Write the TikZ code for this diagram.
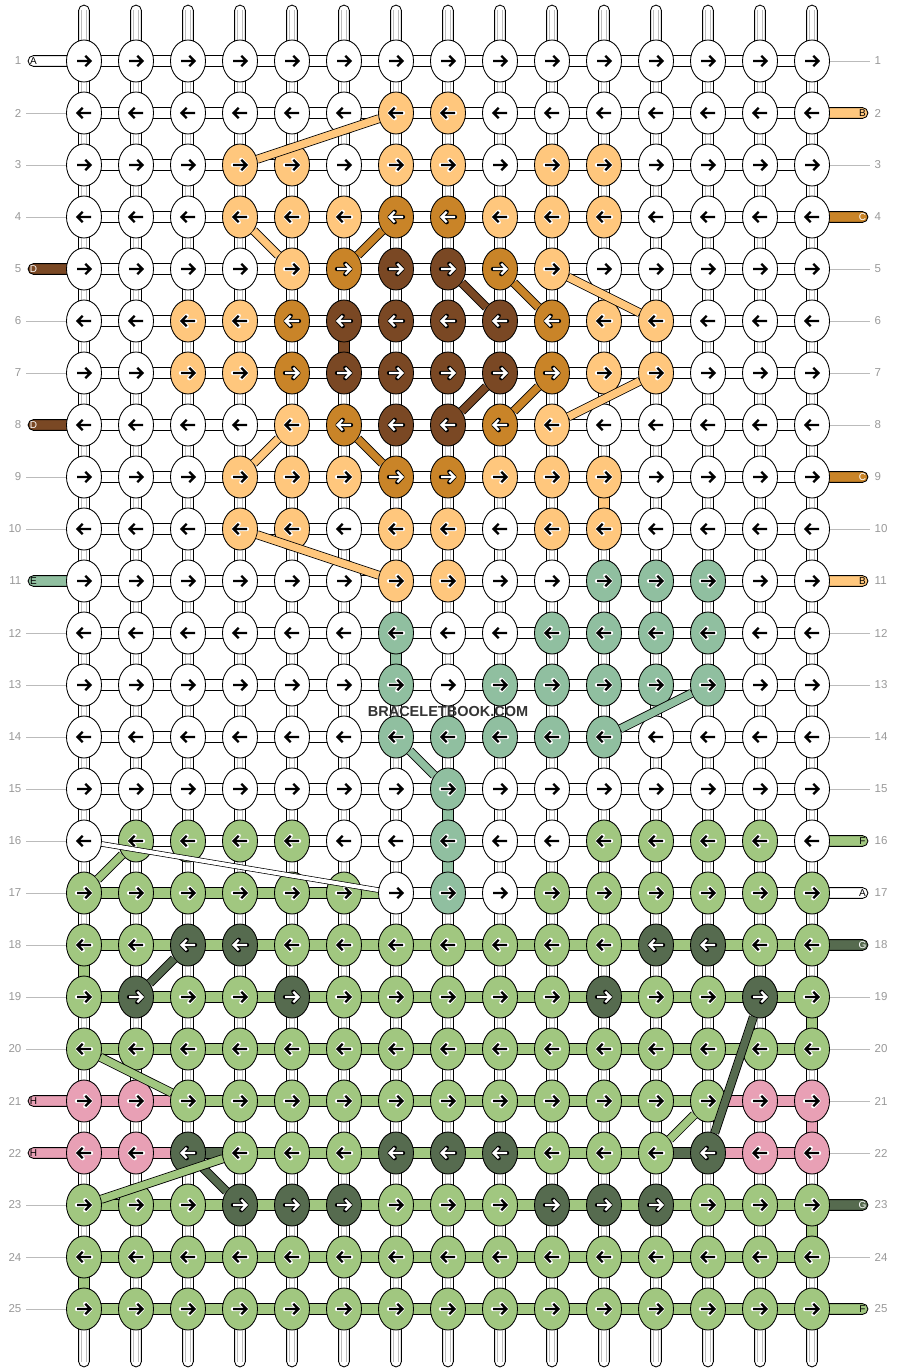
\documentclass[tikz,border=0pt]{standalone}
\usepackage{fontspec}
\setmainfont{Liberation Sans}
\usetikzlibrary{shapes.geometric}
\pgfdeclarelayer{background}
\pgfsetlayers{background,main}
\definecolor{W}{HTML}{FFFFFF}
\definecolor{L}{HTML}{FFC77D}
\definecolor{M}{HTML}{C98428}
\definecolor{D}{HTML}{7A4824}
\definecolor{T}{HTML}{90BFA0}
\definecolor{G}{HTML}{A1C780}
\definecolor{K}{HTML}{566B4F}
\definecolor{P}{HTML}{E8A0B5}
\definecolor{numgray}{HTML}{999999}
\definecolor{linegray}{HTML}{BBBBBB}
\definecolor{warpgray}{HTML}{BDBDBD}
\definecolor{textdark}{HTML}{333333}
\begin{document}
\begin{tikzpicture}[x=1pt,y=-1pt,
  knot/.style={ellipse, draw=black, line width=0.85pt, minimum width=35pt, minimum height=42pt, inner sep=0pt},
  segbox/.style={draw=black, line width=0.85pt},
  warpline/.style={draw=warpgray, line width=0.7pt},
  diag/.style={draw=black, line width=0.8pt, double distance=7.4pt},
  thindiag/.style={draw=black, line width=0.7pt, double=white, double distance=4pt},
  num/.style={text=numgray, font=\fontsize{11.5}{12}\selectfont, inner sep=0pt},
  lab/.style={font=\fontsize{10}{10}\selectfont, inner sep=0pt},
  haloW/.style={draw=white}, fgW/.style={draw=black},
  haloL/.style={draw=white}, fgL/.style={draw=black},
  haloT/.style={draw=white}, fgT/.style={draw=black},
  haloG/.style={draw=white}, fgG/.style={draw=black},
  haloP/.style={draw=white}, fgP/.style={draw=black},
  haloM/.style={draw=black}, fgM/.style={draw=white},
  haloD/.style={draw=black}, fgD/.style={draw=white},
  haloK/.style={draw=black}, fgK/.style={draw=white}]
\useasboundingbox (0,0) rectangle (896,1372);
\begin{pgfonlayer}{background}
\fill[white] (0,0) rectangle (896,1372);
\end{pgfonlayer}
% knots
\foreach \rr/\cols in {
 1/{W,W,W,W,W,W,W,W,W,W,W,W,W,W,W},
 2/{W,W,W,W,W,W,L,L,W,W,W,W,W,W,W},
 3/{W,W,W,L,L,W,L,L,W,L,L,W,W,W,W},
 4/{W,W,W,L,L,L,M,M,L,L,L,W,W,W,W},
 5/{W,W,W,W,L,M,D,D,M,L,W,W,W,W,W},
 6/{W,W,L,L,M,D,D,D,D,M,L,L,W,W,W},
 7/{W,W,L,L,M,D,D,D,D,M,L,L,W,W,W},
 8/{W,W,W,W,L,M,D,D,M,L,W,W,W,W,W},
 9/{W,W,W,L,L,L,M,M,L,L,L,W,W,W,W},
 10/{W,W,W,L,L,W,L,L,W,L,L,W,W,W,W},
 11/{W,W,W,W,W,W,L,L,W,W,T,T,T,W,W},
 12/{W,W,W,W,W,W,T,W,W,T,T,T,T,W,W},
 13/{W,W,W,W,W,W,T,W,T,T,T,T,T,W,W},
 14/{W,W,W,W,W,W,T,T,T,T,T,W,W,W,W},
 15/{W,W,W,W,W,W,W,T,W,W,W,W,W,W,W},
 16/{W,G,G,G,G,W,W,T,W,W,G,G,G,G,W},
 17/{G,G,G,G,G,G,W,T,W,G,G,G,G,G,G},
 18/{G,G,K,K,G,G,G,G,G,G,G,K,K,G,G},
 19/{G,K,G,G,K,G,G,G,G,G,K,G,G,K,G},
 20/{G,G,G,G,G,G,G,G,G,G,G,G,G,G,G},
 21/{P,P,G,G,G,G,G,G,G,G,G,G,G,P,P},
 22/{P,P,K,G,G,G,K,K,K,G,G,G,K,P,P},
 23/{G,G,G,K,K,K,G,G,G,K,K,K,G,G,G},
 24/{G,G,G,G,G,G,G,G,G,G,G,G,G,G,G},
 25/{G,G,G,G,G,G,G,G,G,G,G,G,G,G,G}} {
  \foreach \kc [count=\cc] in \cols {
    \pgfmathsetmacro\X{84+52*(\cc-1)}
    \pgfmathsetmacro\Y{61+52*(\rr-1)}
    \pgfmathsetmacro\dr{ifthenelse(mod(\rr,2)==1,1,-1)}
    \node[knot, fill=\kc] (k-\rr-\cc) at (\X,\Y) {};
    \draw[halo\kc, line width=4.3pt, line cap=round, line join=round]
      (\X-7*\dr,\Y) -- (\X+6*\dr,\Y) (\X+1.3*\dr,\Y-5.2) -- (\X+6.4*\dr,\Y) -- (\X+1.3*\dr,\Y+5.2);
    \draw[fg\kc, line width=2.3pt, line cap=butt, line join=miter]
      (\X-7*\dr,\Y) -- (\X+6*\dr,\Y) (\X+1.3*\dr,\Y-5.2) -- (\X+6.4*\dr,\Y) -- (\X+1.3*\dr,\Y+5.2);
  }
}
\begin{pgfonlayer}{background}
% warp strands
\foreach \cc in {1,...,15} {
  \pgfmathsetmacro\X{84+52*(\cc-1)}
  \coordinate (top-\cc) at (\X,10.5);
  \coordinate (bot-\cc) at (\X,1361.5);
  \draw[segbox, fill=white] ([xshift=-5.4pt]k-1-\cc.center) -- ([xshift=-5.4pt]top-\cc)
     arc[start angle=180, end angle=0, radius=5.4pt] -- ([xshift=5.4pt]k-1-\cc.center) -- cycle;
  \draw[warpline] ([xshift=-2.2pt]top-\cc) -- ([xshift=-2.2pt]k-1-\cc.center)
                  ([xshift=2.2pt]top-\cc) -- ([xshift=2.2pt]k-1-\cc.center);
  \draw[segbox, fill=white] ([xshift=-5.4pt]k-25-\cc.center) -- ([xshift=-5.4pt]bot-\cc)
     arc[start angle=180, end angle=360, radius=5.4pt] -- ([xshift=5.4pt]k-25-\cc.center) -- cycle;
  \draw[warpline] ([xshift=-2.2pt]bot-\cc) -- ([xshift=-2.2pt]k-25-\cc.center)
                  ([xshift=2.2pt]bot-\cc) -- ([xshift=2.2pt]k-25-\cc.center);
  \foreach \rr in {1,...,24} {
    \pgfmathtruncatemacro\rn{\rr+1}
    \draw[segbox, fill=white] ([xshift=-5.4pt]k-\rr-\cc.center) rectangle ([xshift=5.4pt]k-\rn-\cc.center);
    \draw[warpline] ([xshift=-2.2pt]k-\rr-\cc.center) -- ([xshift=-2.2pt]k-\rn-\cc.center)
                    ([xshift=2.2pt]k-\rr-\cc.center) -- ([xshift=2.2pt]k-\rn-\cc.center);
  }
}
% horizontal segments
\foreach \rr/\segs in {
 1/{W,W,W,W,W,W,W,W,W,W,W,W,W,W}, 2/{W,W,W,W,W,W,W,W,W,W,W,W,W,W},
 3/{W,W,W,W,W,W,W,W,W,W,W,W,W,W}, 4/{W,W,W,W,W,W,W,W,W,W,W,W,W,W},
 5/{W,W,W,W,W,W,W,W,W,W,W,W,W,W}, 6/{W,W,W,W,W,W,W,W,W,W,W,W,W,W},
 7/{W,W,W,W,W,W,W,W,W,W,W,W,W,W}, 8/{W,W,W,W,W,W,W,W,W,W,W,W,W,W},
 9/{W,W,W,W,W,W,W,W,W,W,W,W,W,W}, 10/{W,W,W,W,W,W,W,W,W,W,W,W,W,W},
 11/{W,W,W,W,W,W,W,W,W,W,W,W,W,W}, 12/{W,W,W,W,W,W,W,W,W,W,W,W,W,W},
 13/{W,W,W,W,W,W,W,W,W,W,W,W,W,W}, 14/{W,W,W,W,W,W,W,W,W,W,W,W,W,W},
 15/{W,W,W,W,W,W,W,W,W,W,W,W,W,W}, 16/{W,W,W,W,W,W,W,W,W,W,W,W,W,W},
 17/{G,G,G,G,G,G,W,W,W,W,W,W,W,W},
 18/{G,G,G,G,G,G,G,G,G,G,G,G,G,G}, 19/{G,G,G,G,G,G,G,G,G,G,G,G,G,G},
 20/{G,G,G,G,G,G,G,G,G,G,G,G,G,G},
 21/{P,P,G,G,G,G,G,G,G,G,G,G,P,P},
 22/{P,P,K,G,G,G,G,G,G,G,G,K,P,P},
 23/{G,G,G,G,G,G,G,G,G,G,G,G,G,G}, 24/{G,G,G,G,G,G,G,G,G,G,G,G,G,G},
 25/{G,G,G,G,G,G,G,G,G,G,G,G,G,G}} {
  \foreach \sg [count=\cc] in \segs {
    \pgfmathtruncatemacro\cn{\cc+1}
    \draw[segbox, fill=\sg] ([yshift=5.4pt]k-\rr-\cc.center) rectangle ([yshift=-5.4pt]k-\rr-\cn.center);
  }
}
% coloured vertical segments
\foreach \rr/\cc/\sg in {6/6/D, 9/11/L, 12/7/T, 15/8/T, 16/8/T, 18/1/G, 19/15/G, 21/15/P, 23/15/G, 24/1/G} {
  \pgfmathtruncatemacro\rn{\rr+1}
  \draw[segbox, fill=\sg] ([xshift=-5.4pt]k-\rr-\cc.center) rectangle ([xshift=5.4pt]k-\rn-\cc.center);
}
% left strand bars
\foreach \rr/\sg in {1/W, 5/D, 8/D, 11/T, 21/P, 22/P} {
  \pgfmathsetmacro\Y{61+52*(\rr-1)}
  \coordinate (lb-\rr) at (33.5,\Y);
  \draw[segbox, fill=\sg] ([yshift=5.4pt]k-\rr-1.center) -- ([yshift=5.4pt]lb-\rr)
     arc[start angle=90, end angle=270, radius=5.4pt] -- ([yshift=-5.4pt]k-\rr-1.center) -- cycle;
}
% right strand bars
\foreach \rr/\sg in {2/L, 4/M, 9/M, 11/L, 16/G, 17/W, 18/K, 23/K, 25/G} {
  \pgfmathsetmacro\Y{61+52*(\rr-1)}
  \coordinate (rb-\rr) at (862.5,\Y);
  \draw[segbox, fill=\sg] ([yshift=5.4pt]k-\rr-15.center) -- ([yshift=5.4pt]rb-\rr)
     arc[start angle=90, end angle=-90, radius=5.4pt] -- ([yshift=-5.4pt]k-\rr-15.center) -- cycle;
}
\end{pgfonlayer}
% grey guide lines
\foreach \rr in {2,3,4,6,7,9,10,12,13,14,15,16,17,18,19,20,23,24,25} {
  \pgfmathsetmacro\Y{61+52*(\rr-1)}
  \coordinate (lg-\rr) at (26,\Y);
  \draw[linegray, line width=0.9pt] (lg-\rr) -- (k-\rr-1.west);
}
\foreach \rr in {1,3,5,6,7,8,10,12,13,14,15,19,20,21,22,24} {
  \pgfmathsetmacro\Y{61+52*(\rr-1)}
  \coordinate (rg-\rr) at (870,\Y);
  \draw[linegray, line width=0.9pt] (k-\rr-15.east) -- (rg-\rr);
}
% letters on the strand bars
\foreach \rr/\lt/\tc in {1/A/black, 5/D/white, 8/D/white, 11/E/black, 21/H/black, 22/H/black} {
  \node[lab, text=\tc] (lt-\rr) at (lb-\rr) {\lt};
}
\foreach \rr/\lt/\tc in {2/B/black, 4/C/white, 9/C/white, 11/B/black, 16/F/black, 17/A/black, 18/G/white, 23/G/white, 25/F/black} {
  \node[lab, text=\tc] (rt-\rr) at (rb-\rr) {\lt};
}
% row numbers
\foreach \rr in {1,...,25} {
  \pgfmathsetmacro\Y{61+52*(\rr-1)}
  \node[num, anchor=east] (nl-\rr) at (21.5,\Y) {\rr};
  \node[num, anchor=west] (nr-\rr) at (874.5,\Y) {\rr};
}
% diagonal strands
\foreach \a/\b/\sg in {3-4/2-7/L, 4-4/5-5/L, 5-6/4-7/M, 5-8/6-9/D, 5-9/6-10/M, 5-10/6-12/L,
  8-10/7-12/L, 8-8/7-9/D, 8-9/7-10/M, 9-4/8-5/L, 8-6/9-7/M, 10-4/11-7/L,
  14-11/13-13/T, 14-7/15-8/T, 17-1/16-2/G, 19-2/18-3/K, 20-1/21-3/G,
  22-3/23-4/K, 23-1/22-4/G, 19-14/22-13/K, 22-12/21-13/G} {
  \draw[diag, double=\sg] (k-\a) -- (k-\b);
}
\draw[thindiag] (k-16-1) -- (k-17-7);
\node[font=\bfseries\fontsize{14.5}{15}\selectfont, text=textdark, inner sep=0pt] (brand) at (448,712) {BRACELETBOOK.COM};
\end{tikzpicture}
\end{document}
